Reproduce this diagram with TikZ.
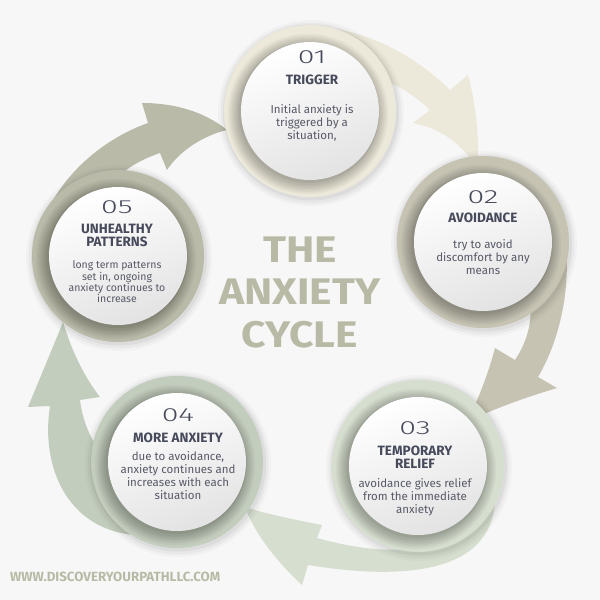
\documentclass[tikz,border=0pt]{standalone}
\usepackage{fontspec}
\usepackage{graphicx}
\setmainfont{Fira Sans}
\newfontfamily\numfont{Fira Sans Light}[FakeStretch=1.6]
\newfontfamily\headfont{Fira Sans}[FakeStretch=1.15]
\definecolor{bg}{HTML}{F7F7F7}
\definecolor{cA}{HTML}{ECE9DA}
\definecolor{cB}{HTML}{C6C3B3}
\definecolor{cC}{HTML}{D6DFCF}
\definecolor{cD}{HTML}{C3CDBD}
\definecolor{cE}{HTML}{B9BAA8}
\definecolor{ink}{HTML}{474A5B}
\definecolor{bodyink}{HTML}{575967}
\definecolor{headink}{HTML}{B9BAA6}
\tikzset{
  numtext/.style={font=\numfont\fontsize{19}{19}\selectfont, text=ink, inner sep=0pt},
  titletext/.style={font=\bfseries\fontsize{13.5}{13}\selectfont, text=ink, align=center, inner sep=0pt},
  bodytext/.style={font=\fontsize{11.5}{13}\selectfont, text=bodyink, align=center, inner sep=0pt},
}
\newcommand\ringdisc[2]{%
  \begin{scope}[shift={#1}]
    \fill[black,opacity=0.025] (1,2) circle[radius=93];
    \fill[black,opacity=0.035] (1,2) circle[radius=90.5];
    \fill[black,opacity=0.05] (1,1.5) circle[radius=88];
    \fill[#2] (0,0) circle[radius=86];
    \foreach \rr in {80,78,76.5,75,73.5,72.3,71.2}{
      \fill[#2!55!black,opacity=0.09] (-2,3) circle[radius=\rr];}
    \fill[black,opacity=0.06] (-1,1.5) circle[radius=70.5];
    \shade[top color=white, bottom color=black!11, shading angle=20] (0,0) circle[radius=69];
  \end{scope}}
\begin{document}
\begin{tikzpicture}[x=1pt,y=-1pt]
\fill[bg] (0,0) rectangle (600,600);
\useasboundingbox (0,0) rectangle (600,600);

% arrows
\fill[cE] (40,230) .. controls (55,180) and (100,140) .. (148,123) -- (142,103)
  .. controls (175,103) and (205,112) .. (227,130)
  .. controls (205,135) and (180,150) .. (167,170) -- (160,153)
  .. controls (130,163) and (110,180) .. (100,200) -- cycle;
\fill[cA] (315,28) .. controls (360,26) and (415,55) .. (450,90) -- (468,75)
  .. controls (476,105) and (480,140) .. (477,170)
  .. controls (465,145) and (440,128) .. (413,123) -- (430,110)
  .. controls (410,90) and (380,75) .. (350,70) -- cycle;
\fill[cB] (562,220) .. controls (575,280) and (560,340) .. (538,377) -- (557,388)
  .. controls (530,396) and (495,408) .. (467,422)
  .. controls (477,402) and (488,375) .. (495,348) -- (515,360)
  .. controls (525,345) and (533,325) .. (530,300) -- cycle;
\fill[cC] (495,500) .. controls (492,575) and (400,580) .. (308,565) -- (302,585)
  .. controls (280,565) and (255,535) .. (245,507)
  .. controls (270,515) and (297,520) .. (322,525) -- (317,538)
  .. controls (360,550) and (410,556) .. (440,540) -- cycle;
\fill[cD] (135,535) .. controls (70,530) and (40,470) .. (50,406) -- (28,407)
  .. controls (40,378) and (53,347) .. (63,322)
  .. controls (72,352) and (85,378) .. (100,397) -- (80,400)
  .. controls (83,425) and (95,455) .. (125,475) -- cycle;

% circles
\ringdisc{(310,111)}{cA}
\ringdisc{(483,242)}{cB}
\ringdisc{(418,466)}{cC}
\ringdisc{(177,462)}{cD}
\ringdisc{(118,256)}{cE}

% stage 1
\node[numtext] (n1) at (312,57) {01};
\node[titletext] (t1) at (312,80) {TRIGGER};
\node[bodytext] (b1) at (312,123) {Initial anxiety is\\triggered by a\\situation,};
% stage 2
\node[numtext] (n2) at (483,197) {02};
\node[titletext] (t2) at (483,218) {AVOIDANCE};
\node[bodytext] (b2) at (483,257) {try to avoid\\discomfort by any\\means};
% stage 3
\node[numtext] (n3) at (415,428) {03};
\node[titletext] (t3) at (415,457) {TEMPORARY\\RELIEF};
\node[bodytext] (b3) at (415,497) {avoidance gives relief\\from the immediate\\anxiety};
% stage 4
\node[numtext] (n4) at (178,415) {04};
\node[titletext] (t4) at (178,438) {MORE ANXIETY};
\node[bodytext] (b4) at (178,476) {due to avoidance,\\anxiety continues and\\increases with each\\situation};
% stage 5
\node[numtext] (n5) at (117,207) {05};
\node[titletext] (t5) at (117,235.5) {UNHEALTHY\\PATTERNS};
\node[bodytext,font=\fontsize{10.5}{11.3}\selectfont] (b5) at (117,282) {long term patterns\\set in, ongoing\\anxiety continues to\\increase};

% heading
\node[font=\headfont\bfseries\fontsize{37}{42.5}\selectfont, text=headink, align=center, inner sep=0pt] (title) at (300,292) {THE\\ANXIETY\\CYCLE};

% website
\node[font=\bfseries\fontsize{13.3}{13}\selectfont, text=headink, anchor=west, inner sep=0pt] (web) at (10,577) {WWW.DISCOVERYOURPATHLLC.COM};
\end{tikzpicture}
\end{document}
